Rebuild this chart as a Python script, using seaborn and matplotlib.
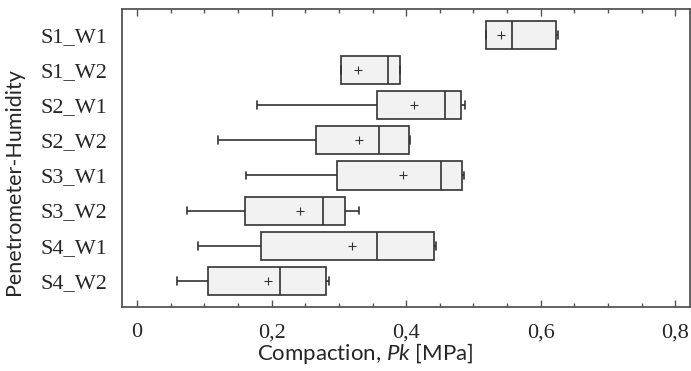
import numpy as np
import pandas as pd
import seaborn as sns
import matplotlib.pyplot as plt
from matplotlib.ticker import MultipleLocator, FuncFormatter

# Five-number summaries, one entry per group
groups = ["S1_W1", "S1_W2", "S2_W1", "S2_W2", "S3_W1", "S3_W2", "S4_W1", "S4_W2"]
mins = [0.519, 0.303, 0.178, 0.120, 0.162, 0.074, 0.090, 0.059]
q1s = [0.519, 0.303, 0.356, 0.266, 0.297, 0.160, 0.184, 0.106]
medians = [0.558, 0.373, 0.458, 0.360, 0.452, 0.277, 0.356, 0.212]
q3s = [0.623, 0.391, 0.481, 0.404, 0.483, 0.309, 0.442, 0.281]
maxs = [0.625, 0.391, 0.487, 0.406, 0.486, 0.330, 0.445, 0.285]
means = [0.541, 0.329, 0.412, 0.330, 0.396, 0.242, 0.319, 0.195]

xticks = [0, 0.2, 0.4, 0.6, 0.8]

# long table: the 5 summary values per group give exactly these quartiles
rows = []
for i, g in enumerate(groups):
    for v in (mins[i], q1s[i], medians[i], q3s[i], maxs[i]):
        rows.append({"group": g, "value": v})
df = pd.DataFrame(rows)
mean_df = pd.DataFrame({"group": groups, "mean": means})

sns.set_style("white")
plt.rcParams["font.family"] = ["Liberation Serif", "DejaVu Serif"]
plt.rcParams["mathtext.fontset"] = "custom"
plt.rcParams["mathtext.it"] = "Lato:italic"
plt.rcParams["mathtext.rm"] = "Lato"

fig = plt.figure(figsize=(6.91, 3.71), dpi=100)
ax = fig.add_axes([0.176, 0.173, 0.8226, 0.8027])

edge = "#333333"
sns.boxplot(data=df, x="value", y="group", order=groups, orient="h",
            whis=(0, 100), width=0.8, color="#f2f2f2", linecolor=edge,
            linewidth=1.2, fliersize=0, capwidths=0.22, saturation=1, ax=ax)
sns.scatterplot(data=mean_df, x="mean", y="group", marker="+", s=28,
                color="#333333", linewidth=0.8, ax=ax, zorder=5)

ax.set_xlim(-0.023, 0.822)
ax.set_ylim(7.74, -0.74)
ax.set_xticks(xticks)
ax.xaxis.set_minor_locator(MultipleLocator(0.05))
ax.xaxis.set_major_formatter(FuncFormatter(lambda v, p: ("%g" % round(v, 2)).replace(".", ",")))
ax.tick_params(axis="x", which="major", direction="in", length=5, width=1,
               color="#555555", top=True, bottom=True, labelsize=16, pad=12)
ax.tick_params(axis="x", which="minor", direction="in", length=3, width=1,
               color="#555555", top=True, bottom=True)
ax.tick_params(axis="y", length=0, labelsize=16, pad=10)

for s in ax.spines.values():
    s.set_visible(True)
    s.set_color("#555555")
    s.set_linewidth(1.3)

ax.set_xlabel(r"Compaction, $\mathit{Pk}$ [MPa]", family="Lato", fontsize=16)
ax.set_ylabel("Penetrometer-Humidity", family="Lato", fontsize=15.5)
ax.xaxis.set_label_coords(0.428, -0.115)
ax.yaxis.set_label_coords(-0.172, 0.42)

fig.savefig("out.png", dpi=100)
